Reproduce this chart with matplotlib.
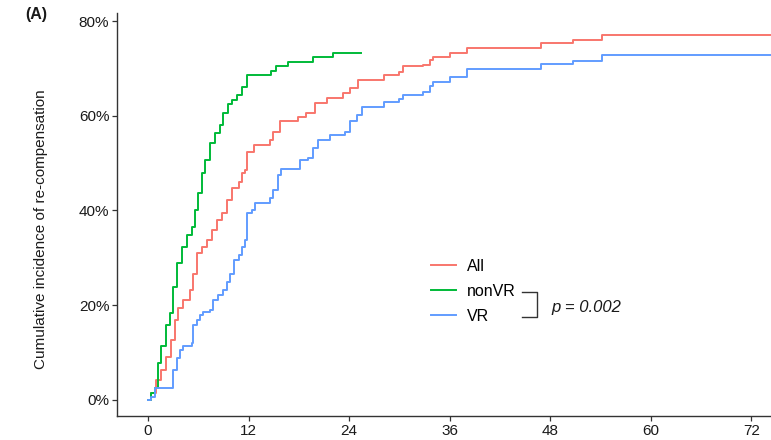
import matplotlib
matplotlib.use("Agg")
import matplotlib.pyplot as plt
from matplotlib.lines import Line2D
from matplotlib.ticker import PercentFormatter

plt.rcParams['font.family'] = ['Liberation Sans', 'DejaVu Sans']

# cumulative incidence (%) after each event time (months)
all_t = [0, 0.3, 1.0, 1.6, 2.2, 2.8, 3.2, 3.6, 4.2, 5.0, 5.4, 5.8, 6.4, 7.0, 7.6, 8.2, 8.8,
         9.4, 10.0, 10.8, 11.2, 11.6, 11.8, 12.6, 14.5, 14.9, 15.7, 17.9, 18.9, 19.9, 21.3,
         23.3, 24.1, 25.1, 28.2, 30.0, 30.4, 32.8, 33.6, 34.0, 36.0, 38.0, 46.9, 50.7, 54.2, 75.0]
all_v = [0, 1.5, 4.2, 6.3, 9.1, 12.7, 16.9, 19.4, 21.1, 23.2, 26.7, 31.0, 32.4, 33.8, 35.9, 38.0, 39.4,
         42.2, 44.7, 46.1, 47.9, 48.5, 52.4, 53.8, 54.9, 56.6, 58.8, 59.8, 60.5, 62.6, 63.7,
         64.7, 65.8, 67.5, 68.6, 69.3, 70.4, 70.7, 71.8, 72.3, 73.2, 74.4, 75.4, 76.0, 77.0, 77.0]

nonvr_t = [0, 0.3, 0.8, 1.2, 1.6, 2.1, 2.6, 3.0, 3.4, 4.0, 4.6, 5.2, 5.6, 6.0, 6.4, 6.8, 7.4,
           8.0, 8.6, 9.0, 9.5, 10.0, 10.6, 11.2, 11.8, 14.7, 15.3, 16.7, 19.7, 22.1, 25.4]
nonvr_v = [0, 1.5, 2.5, 7.8, 11.3, 15.8, 18.3, 23.9, 28.9, 32.4, 34.8, 36.6, 40.1, 43.6, 47.9, 50.7, 54.2,
           56.3, 58.0, 60.5, 62.5, 63.3, 64.4, 66.1, 68.5, 69.4, 70.6, 71.3, 72.5, 73.3, 73.3]

vr_t = [0, 0.3, 0.8, 3.0, 3.4, 3.8, 4.2, 5.2, 5.4, 5.8, 6.2, 6.6, 7.4, 7.8, 8.4, 9.0, 9.4, 9.8,
        10.2, 10.8, 11.2, 11.6, 11.8, 12.4, 12.8, 14.5, 14.9, 15.5, 15.9, 18.1, 19.1, 19.7, 20.3,
        21.7, 23.5, 24.1, 24.9, 25.5, 28.2, 30.0, 30.4, 32.8, 33.6, 34.0, 36.0, 38.0, 46.9, 50.7,
        54.2, 75.0]
vr_v = [0, 0.7, 2.5, 6.3, 8.8, 10.6, 11.3, 12.0, 15.8, 16.9, 17.9, 18.6, 19.0, 21.1, 22.2, 23.2, 25.0, 26.7,
        29.6, 30.6, 32.4, 33.8, 39.4, 40.1, 41.5, 42.6, 44.3, 47.5, 48.7, 50.7, 51.0, 53.1, 54.9,
        55.9, 56.6, 58.8, 60.2, 61.9, 63.0, 63.5, 64.4, 65.1, 66.3, 67.2, 68.1, 69.9, 70.9, 71.6,
        72.8, 72.8]

x_ticks = [0, 12, 24, 36, 48, 60, 72]
y_ticks = [0, 20, 40, 60, 80]
p_label = 'p = 0.002'

W, H = 771, 440
fig = plt.figure(figsize=(W / 100, H / 100), dpi=100)
ax = fig.add_axes([117 / W, 24 / H, (W - 117) / W, 403 / H])

l_all, = ax.step(all_t, all_v, where='post', color='#F8766D', lw=1.4, label='All')
l_non, = ax.step(nonvr_t, nonvr_v, where='post', color='#00BA38', lw=1.4, label='nonVR')
l_vr, = ax.step(vr_t, vr_v, where='post', color='#619CFF', lw=1.4, label='VR')

ax.set_xlim(-3.7, 74.33)
ax.set_ylim(-3.38, 81.69)
ax.set_xticks(x_ticks)
ax.set_yticks(y_ticks)
ax.yaxis.set_major_formatter(PercentFormatter(decimals=0))

for s in ['top', 'right']:
    ax.spines[s].set_visible(False)
for s in ['left', 'bottom']:
    ax.spines[s].set_color('#333333')
    ax.spines[s].set_linewidth(1.0)
ax.tick_params(direction='out', length=3.5, width=0.9, color='#333333',
               labelcolor='#1a1a1a', labelsize=11, pad=2)

fig.text(41 / W, 1 - 229 / H, 'Cumulative incidence of re-compensation',
         rotation=90, ha='center', va='center', fontsize=11, color='#1a1a1a')
fig.text(25 / W, 1 - 15 / H, '(A)', ha='left', va='center', fontsize=11.5,
         fontweight='bold', color='#1a1a1a')

leg = fig.legend(handles=[l_all, l_non, l_vr], loc='upper left',
                 bbox_to_anchor=(431 / W, 1 - 259 / H), frameon=False, fontsize=11.5,
                 handlelength=1.55, handletextpad=0.7, labelspacing=0.62,
                 borderpad=0, borderaxespad=0)

# bracket joining nonVR and VR, with the log-rank p value
bx = [522 / W, 537 / W, 537 / W, 522 / W]
by = [1 - 292 / H, 1 - 292 / H, 1 - 317 / H, 1 - 317 / H]
fig.add_artist(Line2D(bx, by, color='#333333', lw=1.0, transform=fig.transFigure))
fig.text(551 / W, 1 - 307 / H, p_label, ha='left', va='center', fontsize=12,
         style='italic', color='#1a1a1a')

fig.savefig('out.png', dpi=100)
